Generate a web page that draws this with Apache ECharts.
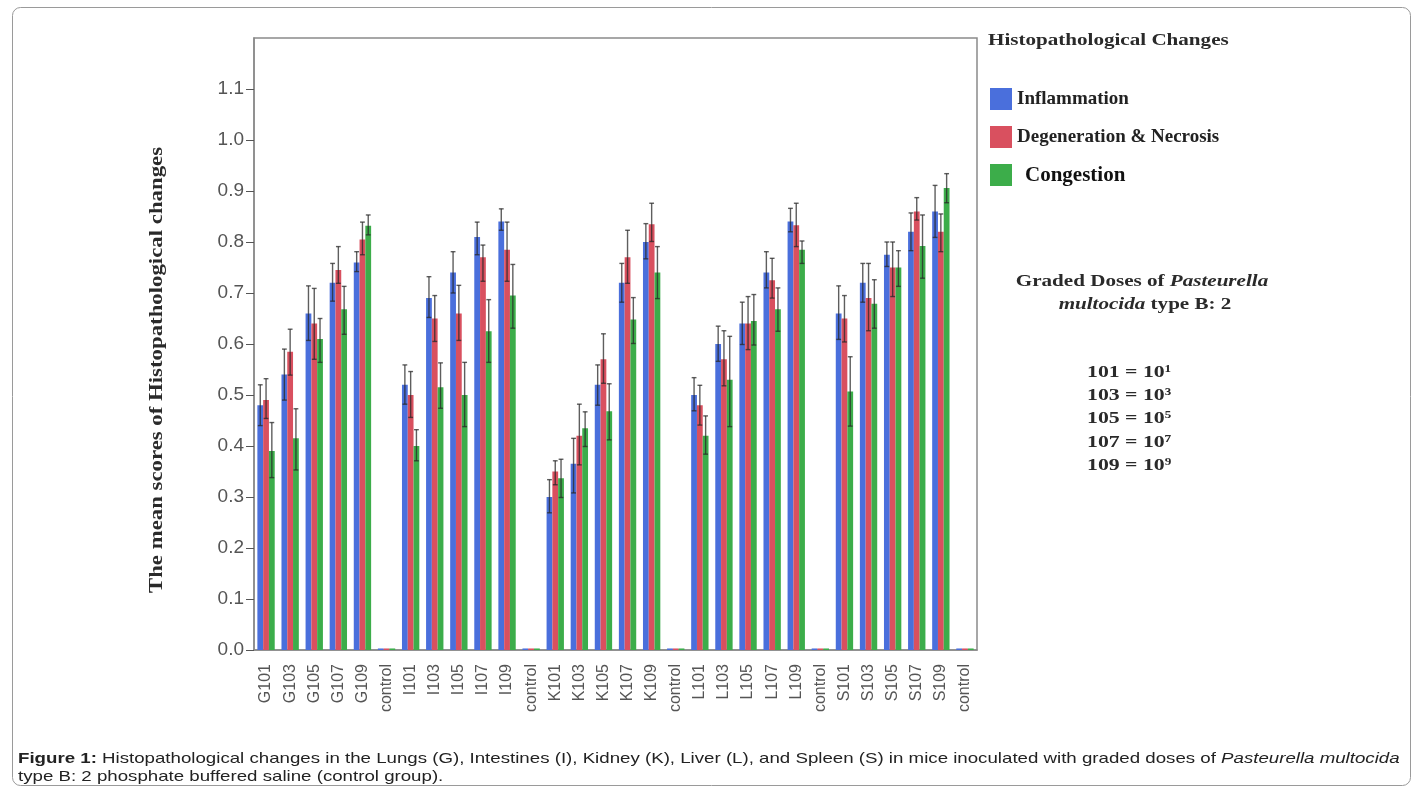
<!DOCTYPE html>
<html>
<head>
<meta charset="utf-8">
<script src="https://cdn.jsdelivr.net/npm/echarts@6/dist/echarts.min.js"></script>
<style>
html,body{margin:0;padding:0;background:#fff;}
#chart{width:1414px;height:789px;}
</style>
</head>
<body>
<div id="chart"></div>
<script>
var categories = ['G101','G103','G105','G107','G109','control',
  'I101','I103','I105','I107','I109','control',
  'K101','K103','K105','K107','K109','control',
  'L101','L103','L105','L107','L109','control',
  'S101','S103','S105','S107','S109','control'];

var yTicks = ['0.0','0.1','0.2','0.3','0.4','0.5','0.6','0.7','0.8','0.9','1.0','1.1'];

var inflammation = [0.48,0.54,0.66,0.72,0.76,0.003, 0.52,0.69,0.74,0.81,0.84,0.003, 0.30,0.365,0.52,0.72,0.80,0.003, 0.50,0.60,0.64,0.74,0.84,0.003, 0.66,0.72,0.775,0.82,0.86,0.003];
var inflammationLow = [0.44,0.49,0.607,0.684,0.742,null, 0.482,0.652,0.70,0.775,0.823,null, 0.269,0.308,0.48,0.682,0.767,null, 0.469,0.566,0.599,0.71,0.82,null, 0.609,0.682,0.752,0.783,0.809,null];
var inflammationHigh = [0.52,0.59,0.714,0.758,0.781,null, 0.559,0.732,0.781,0.839,0.865,null, 0.334,0.415,0.559,0.758,0.836,null, 0.534,0.635,0.682,0.781,0.866,null, 0.714,0.758,0.80,0.857,0.911,null];

var degeneration = [0.49,0.585,0.64,0.745,0.805,0.003, 0.50,0.65,0.66,0.77,0.785,0.003, 0.35,0.42,0.57,0.77,0.835,0.003, 0.48,0.57,0.64,0.725,0.833,0.003, 0.65,0.69,0.75,0.86,0.82,0.003];
var degenerationLow = [0.454,0.539,0.570,0.719,0.775,null, 0.456,0.605,0.607,0.723,0.723,null, 0.324,0.363,0.523,0.719,0.801,null, 0.441,0.518,0.589,0.69,0.791,null, 0.604,0.626,0.693,0.843,0.781,null];
var degenerationHigh = [0.532,0.629,0.709,0.791,0.839,null, 0.546,0.695,0.715,0.794,0.839,null, 0.371,0.482,0.62,0.823,0.876,null, 0.519,0.626,0.693,0.768,0.876,null, 0.695,0.758,0.80,0.887,0.855,null];

var congestion = [0.39,0.415,0.61,0.668,0.832,0.003, 0.40,0.515,0.50,0.625,0.695,0.003, 0.337,0.435,0.468,0.648,0.74,0.003, 0.42,0.53,0.645,0.668,0.785,0.003, 0.507,0.679,0.75,0.792,0.906,0.003];
var congestionLow = [0.338,0.353,0.564,0.619,0.814,null, 0.371,0.474,0.438,0.564,0.631,null, 0.299,0.399,0.412,0.601,0.689,null, 0.384,0.438,0.598,0.625,0.758,null, 0.439,0.631,0.713,0.729,0.877,null];
var congestionHigh = [0.446,0.473,0.65,0.713,0.853,null, 0.432,0.563,0.564,0.687,0.756,null, 0.374,0.467,0.522,0.691,0.791,null, 0.459,0.615,0.697,0.71,0.802,null, 0.575,0.726,0.783,0.853,0.934,null];

var seriesNames = ['Inflammation','Degeneration & Necrosis','Congestion'];
var doseLines = ['101 = 10¹','103 = 10³','105 = 10⁵','107 = 10⁷','109 = 10⁹'];

var colors = ['#4a6fdc','#d9505f','#3cad4a'];
var serif = '"Liberation Serif","Times New Roman",serif';
var sans = '"Liberation Sans",Arial,sans-serif';
var catGapFrac = 0.28;
var tickValues = yTicks.map(function(t){ return parseFloat(t); });

function errData(low, high){
  var out = [];
  for (var i=0;i<categories.length;i++){
    if (low[i]!=null && high[i]!=null) out.push([i, low[i], high[i]]);
  }
  return out;
}
function errRender(k){
  return function(params, api){
    var idx = api.value(0);
    var lo = api.coord([idx, api.value(1)]);
    var hi = api.coord([idx, api.value(2)]);
    var band = api.size([1,0])[0];
    var w = band*(1-catGapFrac)/3;
    var cx = lo[0] + (k-1)*w;
    var cap = 2.4;
    var st = {stroke:'rgba(40,40,40,0.75)', lineWidth:1.4};
    return {type:'group', children:[
      {type:'line', shape:{x1:cx,y1:lo[1],x2:cx,y2:hi[1]}, style:st},
      {type:'line', shape:{x1:cx-cap,y1:hi[1],x2:cx+cap,y2:hi[1]}, style:st},
      {type:'line', shape:{x1:cx-cap,y1:lo[1],x2:cx+cap,y2:lo[1]}, style:st}
    ]};
  };
}

var means = [inflammation, degeneration, congestion];
var lows = [inflammationLow, degenerationLow, congestionLow];
var highs = [inflammationHigh, degenerationHigh, congestionHigh];

var series = [];
for (var k=0;k<3;k++){
  series.push({
    name: seriesNames[k], type:'bar', data: means[k],
    barGap:'0%', barCategoryGap:(catGapFrac*100)+'%',
    itemStyle:{color:colors[k]}, z:2
  });
}
for (var k2=0;k2<3;k2++){
  series.push({
    name: seriesNames[k2]+' err', type:'custom', data: errData(lows[k2], highs[k2]),
    renderItem: errRender(k2), z:5, silent:true,
    encode:{x:0, y:[1,2]}
  });
}

var txt = '#2a2a2a';
var graphics = [
  {type:'rect', left:10, top:5, shape:{width:1398, height:778, r:8}, style:{fill:'none', stroke:'#9a9a9a', lineWidth:1}, z:-1},
  {type:'text', x:988, y:32, scaleX:1.24, style:{text:'Histopathological Changes', font:'bold 17px '+serif, fill:txt}},
  {type:'text', x:1142, y:282, scaleX:1.24, style:{text:'Graded Doses of {i|Pasteurella}', font:'bold 17px '+serif, fill:txt, align:'center', verticalAlign:'middle',
     rich:{i:{font:'italic bold 17px '+serif, fill:txt}}}},
  {type:'text', x:1145, y:305, scaleX:1.24, style:{text:'{i|multocida} type B: 2', font:'bold 17px '+serif, fill:txt, align:'center', verticalAlign:'middle',
     rich:{i:{font:'italic bold 17px '+serif, fill:txt}}}},
  {type:'text', x:157, y:370, rotation:Math.PI/2, scaleX:1.2, style:{text:'The mean scores of Histopathological changes', font:'bold 19px '+serif, fill:txt, align:'center', verticalAlign:'middle'}},
  {type:'text', x:18, y:750, scaleX:1.245, style:{text:'{b|Figure 1:} Histopathological changes in the Lungs (G), Intestines (I), Kidney (K), Liver (L), and Spleen (S) in mice inoculated with graded doses of {i|Pasteurella multocida}\ntype B: 2 phosphate buffered saline (control group).',
     font:'15px '+sans, fill:'#222', lineHeight:18,
     rich:{b:{font:'bold 15px '+sans, fill:'#222', lineHeight:18}, i:{font:'italic 15px '+sans, fill:'#222', lineHeight:18}}}}
];
for (var d=0; d<doseLines.length; d++){
  graphics.push({type:'text', x:1087, y:364 + d*23.3, scaleX:1.28, style:{text:doseLines[d], font:'bold 17px '+serif, fill:txt}});
}

var chart = echarts.init(document.getElementById('chart'));
chart.setOption({
  animation:false,
  backgroundColor:'#fff',
  grid:{left:254, right:437, top:38, bottom:139, show:true, borderColor:'#8a8a8a', borderWidth:1.5, containLabel:false},
  legend:{data:seriesNames, orient:'vertical', left:990, top:88, padding:0, itemWidth:22, itemHeight:22, itemGap:16, icon:'rect',
    formatter:function(name){ return name === 'Congestion' ? '{c|' + name + '}' : name; },
    textStyle:{fontFamily:serif, fontWeight:'bold', fontSize:19, color:'#222', padding:[0,0,0,0],
      rich:{c:{fontFamily:serif, fontWeight:'bold', fontSize:21, color:'#111', padding:[2,0,0,8]}}}},
  xAxis:{type:'category', data:categories,
    axisLine:{lineStyle:{color:'#8a8a8a', width:1.5}},
    axisTick:{alignWithLabel:true, length:7, lineStyle:{color:'#555'}},
    axisLabel:{rotate:90, interval:0, fontFamily:sans, fontSize:16, color:'#555', margin:14}},
  yAxis:{type:'value', min:0, max:1.2, interval:0.1,
    axisLine:{show:true, lineStyle:{color:'#8a8a8a', width:1.5}},
    axisTick:{show:true, length:8, lineStyle:{color:'#555'}, customValues:tickValues},
    splitLine:{show:false},
    axisLabel:{fontFamily:sans, fontSize:19, color:'#555', margin:10, customValues:tickValues,
      formatter:function(v){ var i=Math.round(v*10); return i<yTicks.length ? yTicks[i] : ''; }}},
  graphic:graphics,
  series:series
});
</script>
</body>
</html>
